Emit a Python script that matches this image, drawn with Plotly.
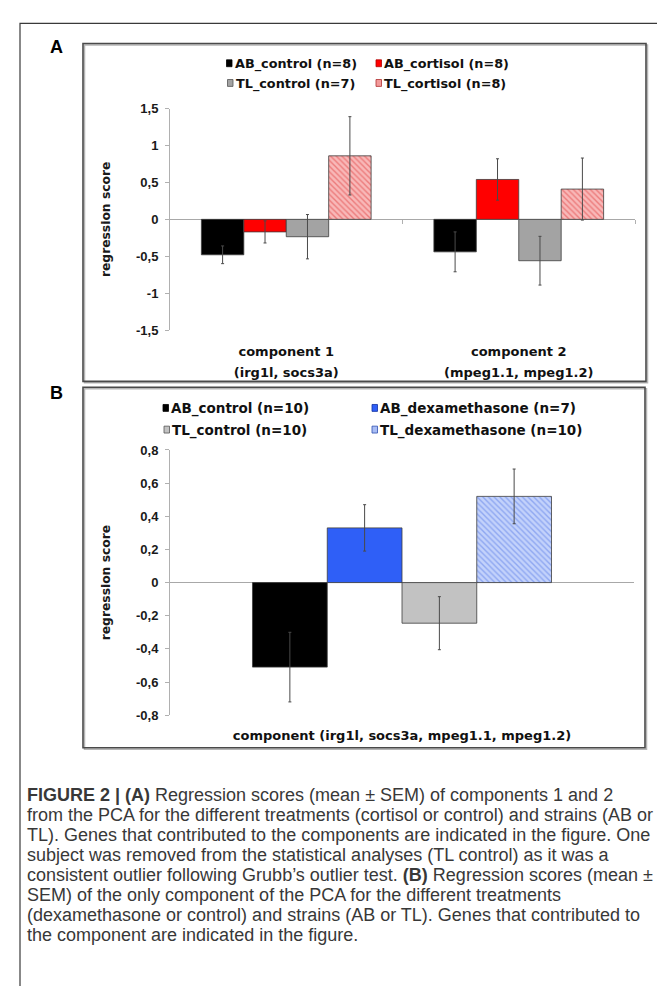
import plotly.graph_objects as go

W, H = 665, 986

# ---------------- Panel A data ----------------
components_A = ["component 1", "component 2"]
genes_A = ["(irg1l, socs3a)", "(mpeg1.1, mpeg1.2)"]
series_A = ["AB_control (n=8)", "AB_cortisol (n=8)", "TL_control (n=7)", "TL_cortisol (n=8)"]
ab_control_A = [-0.48, -0.44]
ab_control_A_err = [0.12, 0.27]
ab_cortisol_A = [-0.17, 0.54]
ab_cortisol_A_err = [0.15, 0.28]
tl_control_A = [-0.235, -0.56]
tl_control_A_err = [0.30, 0.33]
tl_cortisol_A = [0.86, 0.41]
tl_cortisol_A_err = [0.53, 0.42]
y_range_A = [-1.5, 1.5]
y_ticks_A = [-1.5, -1, -0.5, 0, 0.5, 1, 1.5]
y_ticklabels_A = ["-1,5", "-1", "-0,5", "0", "0,5", "1", "1,5"]

# ---------------- Panel B data ----------------
categories_B = ["component (irg1l, socs3a, mpeg1.1, mpeg1.2)"]
series_B = ["AB_control (n=10)", "AB_dexamethasone (n=7)", "TL_control (n=10)", "TL_dexamethasone (n=10)"]
ab_control_B = [-0.51]
ab_control_B_err = [0.21]
ab_dexa_B = [0.33]
ab_dexa_B_err = [0.14]
tl_control_B = [-0.245]
tl_control_B_err = [0.16]
tl_dexa_B = [0.52]
tl_dexa_B_err = [0.165]
y_range_B = [-0.8, 0.8]
y_ticks_B = [-0.8, -0.6, -0.4, -0.2, 0, 0.2, 0.4, 0.6, 0.8]
y_ticklabels_B = ["-0,8", "-0,6", "-0,4", "-0,2", "0", "0,2", "0,4", "0,6", "0,8"]

caption_lines = [
    "<b>FIGURE 2 | (A)</b> Regression scores (mean \u00b1 SEM) of components 1 and 2",
    "from the PCA for the different treatments (cortisol or control) and strains (AB or",
    "TL). Genes that contributed to the components are indicated in the figure. One",
    "subject was removed from the statistical analyses (TL control) as it was a",
    "consistent outlier following Grubb\u2019s outlier test. <b>(B)</b> Regression scores (mean \u00b1",
    "SEM) of the only component of the PCA for the different treatments",
    "(dexamethasone or control) and strains (AB or TL). Genes that contributed to",
    "the component are indicated in the figure.",
]

# ---------------- styles ----------------
C_BLACK = "#000000"
C_RED = "#ff0000"
C_GRAY_A = "#a3a3a3"
C_GRAY_B = "#c2c2c2"
C_BLUE = "#2f5ff7"
EDGE = "#3c3c3c"
ERR = "#4a4a4a"
AXIS_GRAY = "#b0b0b0"
BOLD = "DejaVu Sans"
ARIAL = "Liberation Sans"


def px(x):
    return x / W


def py(y):
    return 1 - y / H


def err(arr):
    return dict(type="data", array=arr, visible=True, color=ERR, thickness=1, width=1.5)


dom_yA = [py(320), py(95)]
dom_yB = [py(711), py(441.7)]
dom_xA = [px(162), px(627)]
dom_xB = [px(162), px(626)]

fig = go.Figure()

styles_A = [
    dict(color=C_BLACK),
    dict(color=C_RED),
    dict(color=C_GRAY_A),
    dict(color="#f4a3a3", pattern=dict(shape="\\", fgcolor="#e04040", bgcolor="#f8b8b8", size=4, solidity=0.35)),
]
vals_A = [ab_control_A, ab_cortisol_A, tl_control_A, tl_cortisol_A]
errs_A = [ab_control_A_err, ab_cortisol_A_err, tl_control_A_err, tl_cortisol_A_err]
for name, v, e, st in zip(series_A, vals_A, errs_A, styles_A):
    fig.add_trace(go.Bar(
        x=components_A, y=v, name=name, error_y=err(e),
        marker=dict(line=dict(color=EDGE, width=0.8), **st),
        xaxis="x", yaxis="y", showlegend=False,
    ))

# invisible helpers so that the overlay axes (gene labels x3, category-boundary ticks x4) are drawn
for ax in ["x3", "x4"]:
    fig.add_trace(go.Scatter(
        x=list(range(len(genes_A))), y=[0] * len(genes_A), mode="markers",
        marker=dict(opacity=0, size=1), hoverinfo="skip", showlegend=False,
        xaxis=ax, yaxis="y",
    ))

styles_B = [
    dict(color=C_BLACK),
    dict(color=C_BLUE),
    dict(color=C_GRAY_B),
    dict(color="#a9bdf5", pattern=dict(shape="\\", fgcolor="#5a7ce8", bgcolor="#c3d2fb", size=4, solidity=0.35)),
]
vals_B = [ab_control_B, ab_dexa_B, tl_control_B, tl_dexa_B]
errs_B = [ab_control_B_err, ab_dexa_B_err, tl_control_B_err, tl_dexa_B_err]
for name, v, e, st in zip(series_B, vals_B, errs_B, styles_B):
    fig.add_trace(go.Bar(
        x=categories_B, y=v, name=name, error_y=err(e),
        marker=dict(line=dict(color=EDGE, width=0.8), **st),
        xaxis="x2", yaxis="y2", showlegend=False,
    ))

yaxis_common = dict(
    showgrid=False, zeroline=True, zerolinecolor="#a8a8a8", zerolinewidth=1,
    showline=True, linecolor=AXIS_GRAY, linewidth=1,
    ticks="outside", ticklen=4, tickcolor=AXIS_GRAY, tickwidth=1,
    tickfont=dict(family=ARIAL, size=13, color="#1a1a1a", weight="bold"),
    ticklabelstandoff=4,
)
xfont = dict(family=BOLD, size=13, color="#111111", weight="bold")
xaxis_common = dict(showgrid=False, showline=False, zeroline=False, ticks="", tickfont=xfont)
ytitle_font = dict(family=BOLD, size=12.3, color="#1a1a1a", weight="bold")

# position (paper fraction) of the y = 0 line in panel A, from its domain and range
zero_pos_A = dom_yA[0] + (0 - y_range_A[0]) / (y_range_A[1] - y_range_A[0]) * (dom_yA[1] - dom_yA[0])

fig.update_layout(
    width=W, height=H, margin=dict(l=0, r=0, t=0, b=0),
    paper_bgcolor="white", plot_bgcolor="white",
    barmode="group", bargap=0.27, bargroupgap=0,
    showlegend=False,
    xaxis=dict(domain=dom_xA, anchor="y", type="category",
               ticklabelstandoff=12, **xaxis_common),
    # second line of the category labels (gene lists), same positions as the categories
    xaxis3=dict(domain=dom_xA, anchor="y", overlaying="x", type="linear",
                range=[-0.5, len(genes_A) - 0.5], tickmode="array",
                tickvals=list(range(len(genes_A))), ticktext=genes_A,
                ticklabelstandoff=33, **xaxis_common),
    # small Excel-like tick marks between categories on the zero line
    xaxis4=dict(domain=dom_xA, anchor="free", position=zero_pos_A, overlaying="x", type="linear",
                range=[-0.5, len(genes_A) - 0.5], tickmode="array",
                tickvals=[i + 0.5 for i in range(len(genes_A))],
                ticks="outside", ticklen=4, tickcolor=AXIS_GRAY, tickwidth=1,
                showticklabels=False, showgrid=False, showline=False, zeroline=False),
    yaxis=dict(domain=dom_yA, anchor="x", range=y_range_A,
               tickvals=y_ticks_A, ticktext=y_ticklabels_A,
               title=dict(text="regression score", standoff=22, font=ytitle_font),
               **yaxis_common),
    xaxis2=dict(domain=dom_xB, anchor="y2", type="category", range=[-0.5664, 0.5664],
                ticklabelstandoff=11, **xaxis_common),
    yaxis2=dict(domain=dom_yB, anchor="x2", range=y_range_B,
                tickvals=y_ticks_B, ticktext=y_ticklabels_B,
                title=dict(text="regression score", standoff=22, font=ytitle_font),
                **yaxis_common),
)

shapes = []
# outer frame
shapes.append(dict(type="rect", xref="paper", yref="paper", x0=px(12), x1=px(W + 20),
                   y0=py(H + 20), y1=py(8.5), line=dict(color="#3a3a3a", width=1.2)))
# panel frames (with light shadow)
for (x0, y0, x1, y1) in [(75, 29, 638, 372), (75, 378, 637, 744)]:
    shapes.append(dict(type="rect", xref="paper", yref="paper", x0=px(x0 + 1.5), x1=px(x1 + 1.5),
                       y0=py(y1 + 1.5), y1=py(y0 + 1.5), line=dict(color="#b5b5b5", width=1.5)))
    shapes.append(dict(type="rect", xref="paper", yref="paper", x0=px(x0), x1=px(x1),
                       y0=py(y1), y1=py(y0), line=dict(color="#4a4a4a", width=1.6)))

annotations = []
annotations.append(dict(text="<b>A</b>", x=px(48), y=py(32), xref="paper", yref="paper",
                        showarrow=False, xanchor="center", yanchor="middle",
                        font=dict(family=ARIAL, size=18, color="#000")))
annotations.append(dict(text="<b>B</b>", x=px(48), y=py(384), xref="paper", yref="paper",
                        showarrow=False, xanchor="center", yanchor="middle",
                        font=dict(family=ARIAL, size=18, color="#000")))


def legend_item(label, sx, sy, fill, edge, fsize):
    shapes.append(dict(type="rect", xref="paper", yref="paper",
                       x0=px(sx), x1=px(sx + 5.5), y0=py(sy + 2.5), y1=py(sy - 4.5),
                       fillcolor=fill, line=dict(color=edge, width=0.8)))
    annotations.append(dict(text="<b>" + label + "</b>", x=px(sx + 6), y=py(sy), xref="paper", yref="paper",
                            showarrow=False, xanchor="left", yanchor="middle",
                            font=dict(family=BOLD, size=fsize, color="#111")))


legA_fill = [(C_BLACK, "#000"), (C_RED, "#b00000"), (C_GRAY_A, "#555"), ("#f29a9a", "#b03030")]
legA_pos = [(218.5, 50), (368, 50), (219.5, 70), (368, 70)]
for lab, (f, e), (sx, sy) in zip(series_A, legA_fill, legA_pos):
    legend_item(lab, sx, sy, f, e, 12.8)

legB_fill = [(C_BLACK, "#000"), (C_BLUE, "#1030a0"), (C_GRAY_B, "#555"), ("#a9bdf5", "#3050b0")]
legB_pos = [(155, 400), (364, 400), (156, 422), (364, 422)]
for lab, (f, e), (sx, sy) in zip(series_B, legB_fill, legB_pos):
    legend_item(lab, sx, sy, f, e, 13.5)

CAP_TOP = 792
CAP_STEP = 20.3
for i, line in enumerate(caption_lines):
    annotations.append(dict(text=line, x=px(17), y=py(CAP_TOP + i * CAP_STEP), xref="paper", yref="paper",
                            showarrow=False, xanchor="left", yanchor="middle", align="left",
                            font=dict(family=ARIAL, size=18, color="#383838")))

fig.update_layout(shapes=shapes, annotations=annotations)
fig.write_html("out.html")
